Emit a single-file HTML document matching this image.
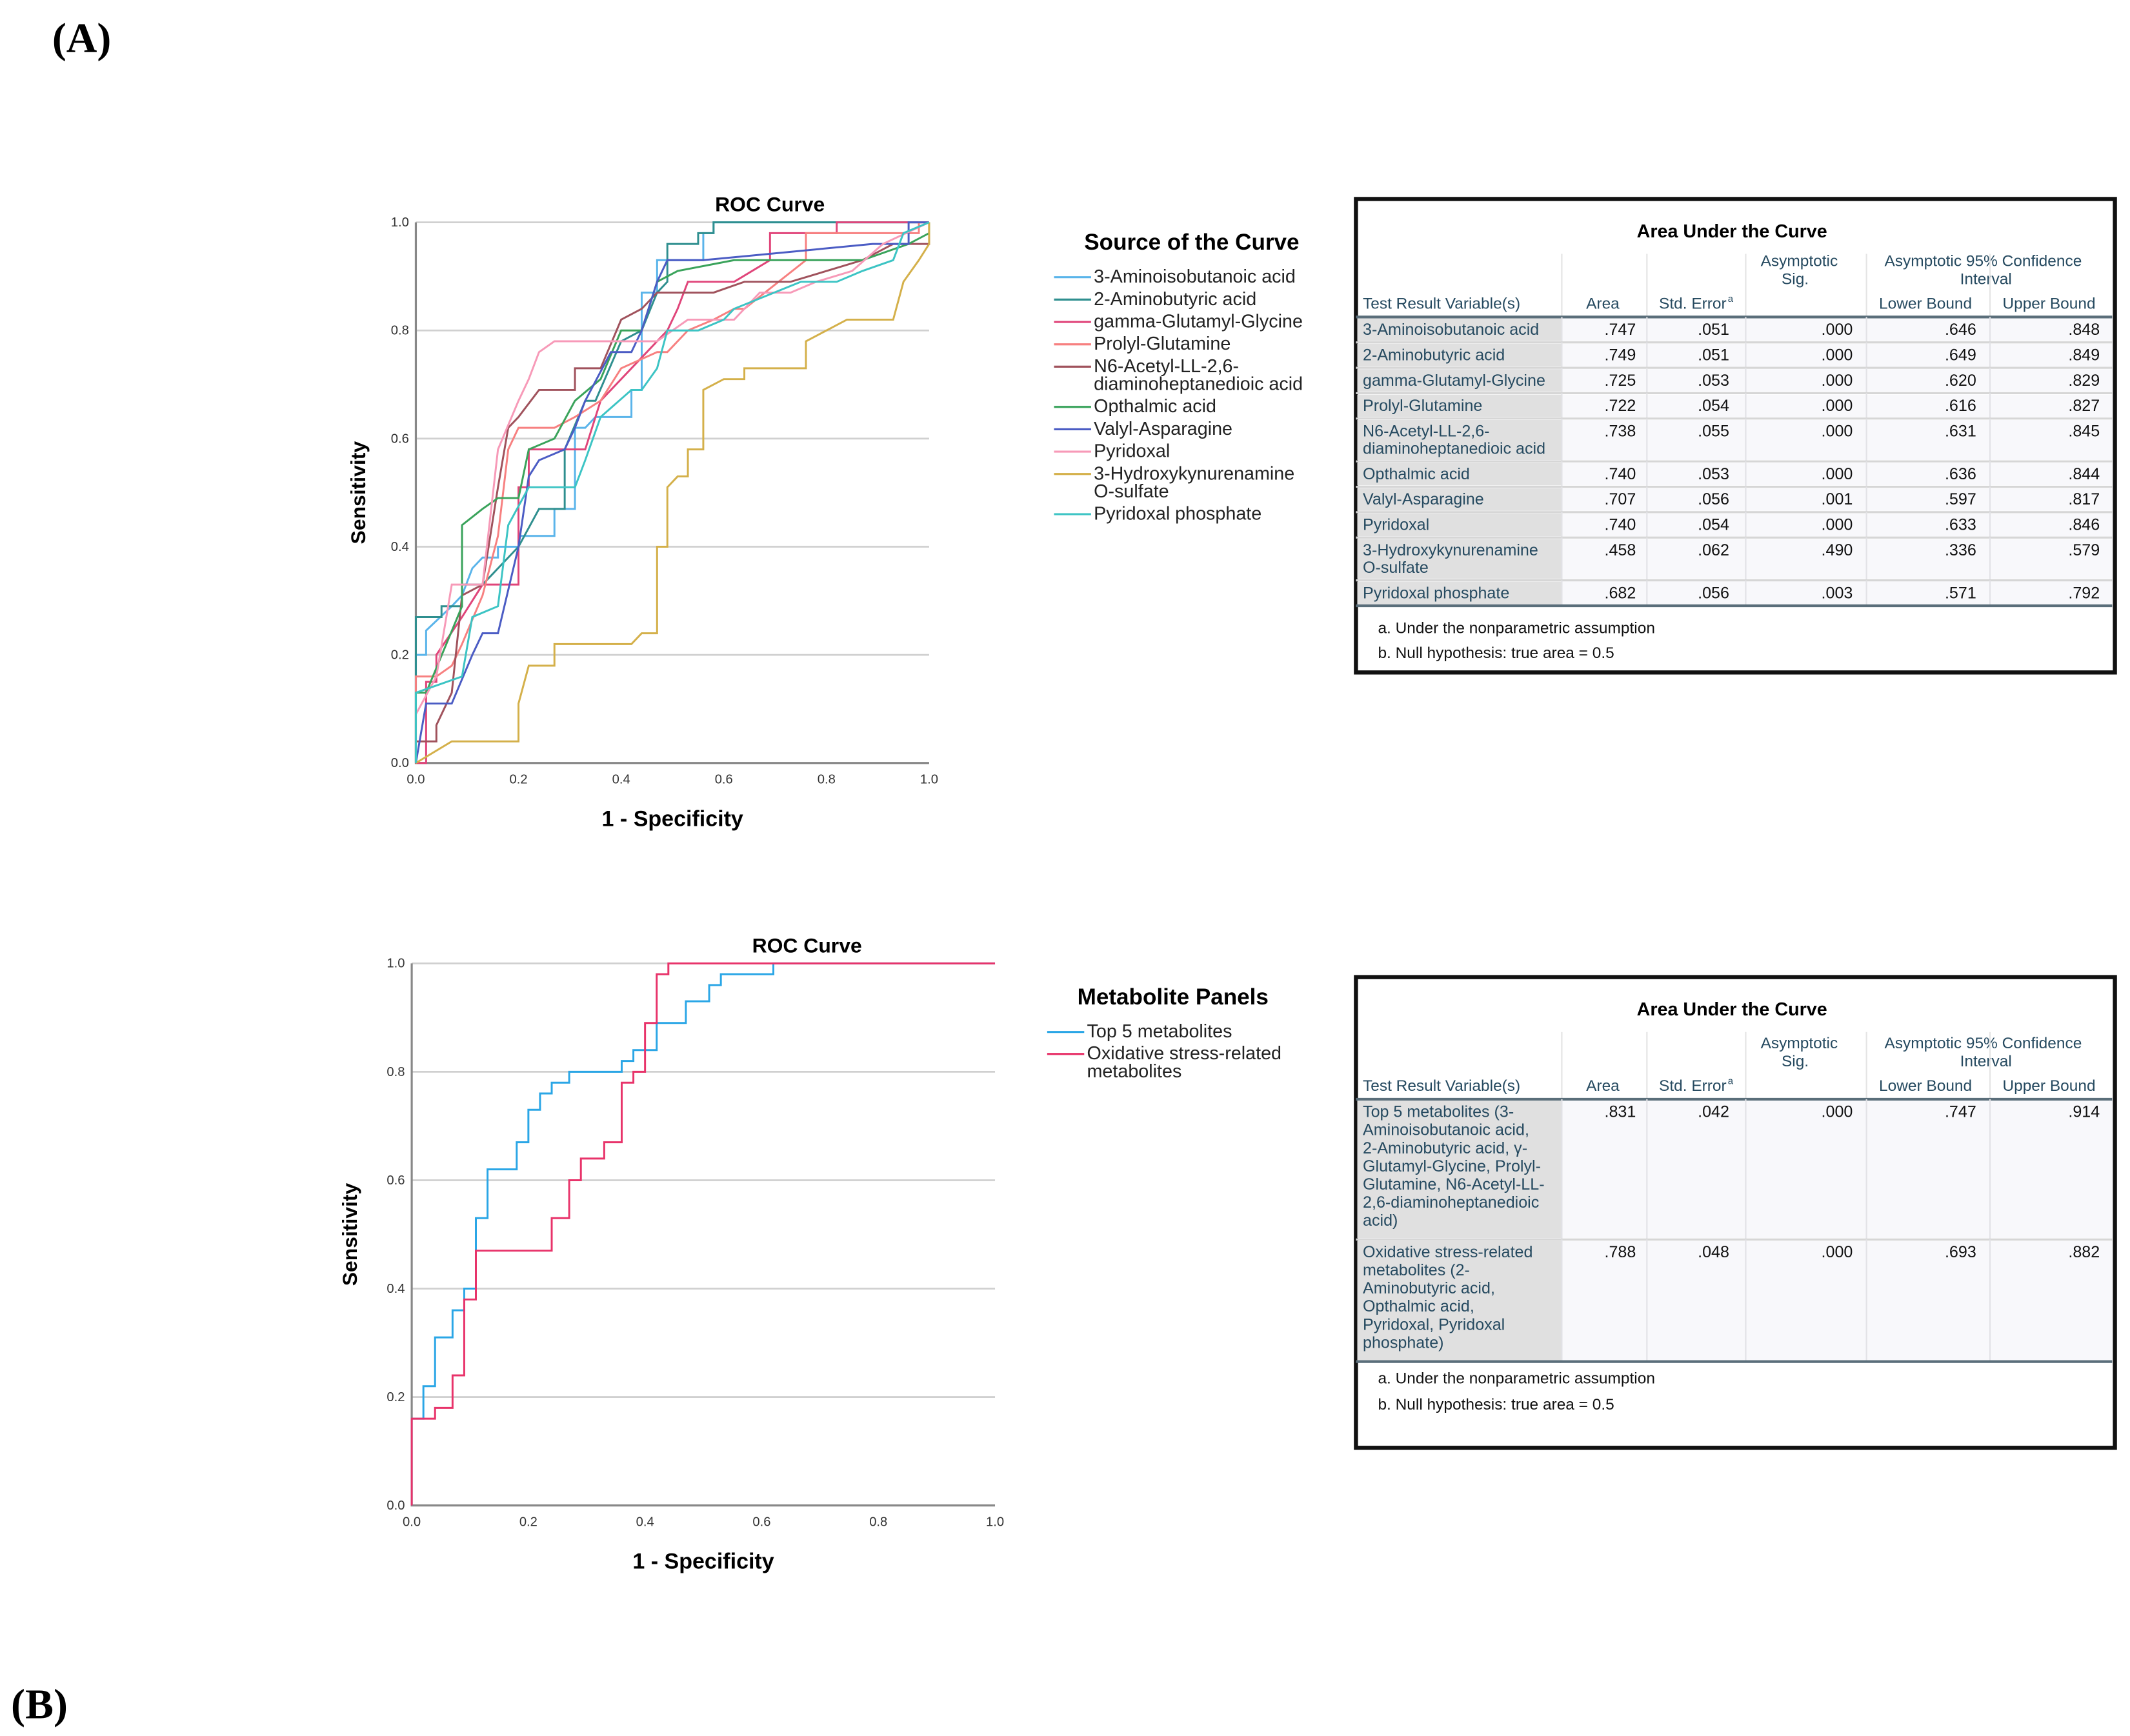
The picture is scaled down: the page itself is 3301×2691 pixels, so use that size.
<!DOCTYPE html>
<html><head><meta charset="utf-8"><style>
html,body{margin:0;padding:0;background:#fff;}
svg{display:block;}
text{font-family:"Liberation Sans",sans-serif;}
</style></head><body>
<svg id="root" width="3301" height="2691" viewBox="0 0 1552 1265" preserveAspectRatio="none" xmlns="http://www.w3.org/2000/svg">
<text x="38" y="38" font-family="Liberation Serif" font-weight="bold" font-size="31" style="font-family:'Liberation Serif',serif">(A)</text>
<text x="8" y="1252" font-family="Liberation Serif" font-weight="bold" font-size="31" style="font-family:'Liberation Serif',serif">(B)</text>
<g id="chartA"></g>
<g id="chartB"></g>
<g id="tableA"></g>
<g id="tableB"></g>
</svg>
<script>
const NS="http://www.w3.org/2000/svg";
// ---- Chart A data ----
const namesA=["3-Aminoisobutanoic acid","2-Aminobutyric acid","gamma-Glutamyl-Glycine","Prolyl-Glutamine","N6-Acetyl-LL-2,6-diaminoheptanedioic acid","Opthalmic acid","Valyl-Asparagine","Pyridoxal","3-Hydroxykynurenamine O-sulfate","Pyridoxal phosphate"];
const fprA0=[0,0,0.02,0.02,0.07,0.09,0.11,0.13,0.16,0.16,0.2,0.2,0.27,0.27,0.31,0.31,0.33,0.35,0.42,0.42,0.44,0.44,0.47,0.47,0.56,0.56,0.58,0.58,1];
const tprA0=[0,0.2,0.2,0.245,0.29,0.31,0.36,0.38,0.38,0.4,0.4,0.42,0.42,0.47,0.47,0.62,0.62,0.64,0.64,0.69,0.69,0.87,0.87,0.93,0.93,0.98,0.98,1,1];
const fprA1=[0,0,0.05,0.05,0.09,0.09,0.13,0.16,0.2,0.24,0.29,0.29,0.33,0.35,0.4,0.44,0.47,0.49,0.49,0.55,0.55,0.58,0.58,1];
const tprA1=[0,0.27,0.27,0.29,0.29,0.33,0.33,0.36,0.4,0.47,0.47,0.58,0.67,0.67,0.78,0.8,0.87,0.89,0.96,0.96,0.98,0.98,1,1];
const fprA2=[0,0.02,0.02,0.04,0.04,0.09,0.13,0.2,0.2,0.22,0.22,0.33,0.36,0.49,0.51,0.53,0.62,0.69,0.69,0.82,0.82,1];
const tprA2=[0,0,0.15,0.15,0.2,0.27,0.33,0.33,0.51,0.51,0.58,0.58,0.67,0.8,0.84,0.89,0.89,0.93,0.98,0.98,1,1];
const fprA3=[0,0,0.04,0.07,0.09,0.13,0.16,0.18,0.2,0.27,0.31,0.36,0.4,0.47,0.49,0.53,0.58,0.62,0.64,0.76,0.76,0.98,0.98,1];
const tprA3=[0,0.16,0.16,0.18,0.22,0.31,0.42,0.58,0.62,0.62,0.64,0.67,0.73,0.76,0.76,0.8,0.82,0.84,0.84,0.93,0.98,0.98,1,1];
const fprA4=[0,0,0.04,0.04,0.07,0.09,0.13,0.16,0.18,0.2,0.24,0.31,0.31,0.36,0.4,0.44,0.47,0.58,0.64,0.73,0.8,0.87,0.93,1,1];
const tprA4=[0,0.04,0.04,0.07,0.13,0.31,0.33,0.51,0.62,0.64,0.69,0.69,0.73,0.73,0.82,0.84,0.87,0.87,0.89,0.89,0.91,0.93,0.96,0.96,1];
const fprA5=[0,0,0.02,0.09,0.09,0.13,0.16,0.2,0.22,0.27,0.31,0.36,0.4,0.44,0.47,0.51,0.62,0.67,0.87,0.96,1,1];
const tprA5=[0,0.13,0.13,0.29,0.44,0.47,0.49,0.49,0.58,0.6,0.67,0.71,0.8,0.8,0.89,0.91,0.93,0.93,0.93,0.96,0.98,1];
const fprA6=[0,0.02,0.07,0.11,0.13,0.16,0.2,0.22,0.24,0.29,0.31,0.33,0.38,0.42,0.44,0.47,0.49,0.56,0.89,0.96,0.96,1];
const tprA6=[0,0.11,0.11,0.2,0.24,0.24,0.4,0.53,0.56,0.58,0.62,0.67,0.76,0.76,0.8,0.89,0.93,0.93,0.96,0.96,1,1];
const fprA7=[0,0,0.04,0.07,0.13,0.16,0.2,0.22,0.24,0.27,0.29,0.47,0.53,0.62,0.67,0.73,0.78,0.85,0.91,1];
const tprA7=[0,0.09,0.16,0.33,0.33,0.58,0.67,0.71,0.76,0.78,0.78,0.78,0.82,0.82,0.87,0.87,0.89,0.91,0.96,1];
const fprA8=[0,0.07,0.2,0.2,0.22,0.27,0.27,0.42,0.44,0.47,0.47,0.49,0.49,0.51,0.53,0.53,0.56,0.56,0.6,0.64,0.64,0.76,0.76,0.8,0.84,0.93,0.95,0.98,1,1];
const tprA8=[0,0.04,0.04,0.11,0.18,0.18,0.22,0.22,0.24,0.24,0.4,0.4,0.51,0.53,0.53,0.58,0.58,0.69,0.71,0.71,0.73,0.73,0.78,0.8,0.82,0.82,0.89,0.93,0.96,1];
const fprA9=[0,0,0.09,0.11,0.16,0.18,0.22,0.31,0.33,0.36,0.42,0.44,0.47,0.49,0.55,0.6,0.62,0.75,0.82,0.87,0.93,0.95,1];
const tprA9=[0,0.13,0.16,0.27,0.29,0.44,0.51,0.51,0.56,0.64,0.69,0.69,0.73,0.8,0.8,0.82,0.84,0.89,0.89,0.91,0.93,0.98,1];
const fprA=[fprA0,fprA1,fprA2,fprA3,fprA4,fprA5,fprA6,fprA7,fprA8,fprA9];
const tprA=[tprA0,tprA1,tprA2,tprA3,tprA4,tprA5,tprA6,tprA7,tprA8,tprA9];
const colorsA=["#5ab4ea","#2f8f8f","#e0457a","#f78080","#a0525c","#3aa35b","#4b5cc4","#f79ab8","#d4b04a","#3cc4c4"];
const legendA=[["3-Aminoisobutanoic acid"],["2-Aminobutyric acid"],["gamma-Glutamyl-Glycine"],["Prolyl-Glutamine"],["N6-Acetyl-LL-2,6-","diaminoheptanedioic acid"],["Opthalmic acid"],["Valyl-Asparagine"],["Pyridoxal"],["3-Hydroxykynurenamine","O-sulfate"],["Pyridoxal phosphate"]];
// ---- Chart B data ----
const namesB=["Top 5 metabolites","Oxidative stress-related metabolites"];
const fprB0=[0,0,0.02,0.02,0.04,0.04,0.07,0.07,0.09,0.09,0.11,0.11,0.13,0.13,0.18,0.18,0.2,0.2,0.22,0.22,0.24,0.24,0.27,0.27,0.36,0.36,0.38,0.38,0.42,0.42,0.47,0.47,0.51,0.51,0.53,0.53,0.62,0.62,1];
const tprB0=[0,0.16,0.16,0.22,0.22,0.31,0.31,0.36,0.36,0.4,0.4,0.53,0.53,0.62,0.62,0.67,0.67,0.73,0.73,0.76,0.76,0.78,0.78,0.8,0.8,0.82,0.82,0.84,0.84,0.89,0.89,0.93,0.93,0.96,0.96,0.98,0.98,1,1];
const fprB1=[0,0,0.04,0.04,0.07,0.07,0.09,0.09,0.11,0.11,0.24,0.24,0.27,0.27,0.29,0.29,0.33,0.33,0.36,0.36,0.38,0.38,0.4,0.4,0.42,0.42,0.44,0.44,1];
const tprB1=[0,0.16,0.16,0.18,0.18,0.24,0.24,0.38,0.38,0.47,0.47,0.53,0.53,0.6,0.6,0.64,0.64,0.67,0.67,0.78,0.78,0.8,0.8,0.89,0.89,0.98,0.98,1,1];
const fprB=[fprB0,fprB1];
const tprB=[tprB0,tprB1];
const colorsB=["#2aa6e6","#e8336a"];
const legendB=[["Top 5 metabolites"],["Oxidative stress-related","metabolites"]];
const ticks=[0,0.2,0.4,0.6,0.8,1.0];
const tickLabels=["0.0","0.2","0.4","0.6","0.8","1.0"];
// ---- Tables ----
const rowsA=[["3-Aminoisobutanoic acid"],["2-Aminobutyric acid"],["gamma-Glutamyl-Glycine"],["Prolyl-Glutamine"],["N6-Acetyl-LL-2,6-","diaminoheptanedioic acid"],["Opthalmic acid"],["Valyl-Asparagine"],["Pyridoxal"],["3-Hydroxykynurenamine","O-sulfate"],["Pyridoxal phosphate"]];
const areaA=[".747",".749",".725",".722",".738",".740",".707",".740",".458",".682"];
const seA=[".051",".051",".053",".054",".055",".053",".056",".054",".062",".056"];
const sigA=[".000",".000",".000",".000",".000",".000",".001",".000",".490",".003"];
const lowA=[".646",".649",".620",".616",".631",".636",".597",".633",".336",".571"];
const upA=[".848",".849",".829",".827",".845",".844",".817",".846",".579",".792"];
const rowsB=[["Top 5 metabolites (3-","Aminoisobutanoic acid,","2-Aminobutyric acid, γ-","Glutamyl-Glycine, Prolyl-","Glutamine, N6-Acetyl-LL-","2,6-diaminoheptanedioic","acid)"],["Oxidative stress-related","metabolites (2-","Aminobutyric acid,","Opthalmic acid,","Pyridoxal, Pyridoxal","phosphate)"]];
const areaB=[".831",".788"];
const seB=[".042",".048"];
const sigB=[".000",".000"];
const lowB=[".747",".693"];
const upB=[".914",".882"];

function mk(parent,tag,attrs,txt){const e=document.createElementNS(NS,tag);for(const k in attrs)e.setAttribute(k,attrs[k]);if(txt!==undefined)e.textContent=txt;parent.appendChild(e);return e;}

function drawChart(g,cfg){
  const sx=v=>cfg.x0+v*(cfg.x1-cfg.x0), sy=v=>cfg.y0-v*(cfg.y0-cfg.y1);
  for(let i=0;i<ticks.length;i++){
    if(ticks[i]>0){const gl=mk(g,"line",{x1:sx(0),x2:sx(1),y1:sy(ticks[i]),y2:sy(ticks[i]),stroke:"#d0d0d0","stroke-width":1.3});
    
    }
    const yt=mk(g,"text",{x:sx(0)-5,y:sy(ticks[i])+3,"font-size":9.5,"text-anchor":"end",fill:"#333"},tickLabels[i]);
    
    
    const xt=mk(g,"text",{x:sx(ticks[i]),y:cfg.y0+15,"font-size":9.5,"text-anchor":"middle",fill:"#333"},tickLabels[i]);
    
    
  }
  const ax=mk(g,"path",{d:`M${sx(0)},${sy(1)}V${sy(0)}H${sx(1)}`,fill:"none",stroke:"#888","stroke-width":1.5});
  
  
  for(let s=0;s<cfg.fpr.length;s++){
    const pts=cfg.fpr[s].map((v,i)=>sx(v).toFixed(2)+","+sy(cfg.tpr[s][i]).toFixed(2)).join(" ");
    const pl=mk(g,"polyline",{points:pts,fill:"none",stroke:cfg.colors[s],"stroke-width":1.4});
    
    
  }
  const t=mk(g,"text",{x:cfg.tx,y:cfg.y1-8,"font-size":15,"font-weight":"bold","text-anchor":"middle"},"ROC Curve");
  
  
  const yl=mk(g,"text",{x:0,y:0,"font-size":15,"font-weight":"bold","text-anchor":"middle",transform:`translate(${cfg.ylx},${(cfg.y0+cfg.y1)/2}) rotate(-90)`},"Sensitivity");
  
  
  const xl=mk(g,"text",{x:(cfg.x0+cfg.x1)/2,y:cfg.y0+46,"font-size":16,"font-weight":"bold","text-anchor":"middle"},"1 - Specificity");
  
  
  const lt=mk(g,"text",{x:cfg.lx+22,y:cfg.ly,"font-size":16.5,"font-weight":"bold"},cfg.legTitle);
  
  
  let y=cfg.ly+24;
  for(let s=0;s<cfg.leg.length;s++){
    const ln=mk(g,"line",{x1:cfg.lx,x2:cfg.lx+27,y1:y-4,y2:y-4,stroke:cfg.colors[s],"stroke-width":1.5});
    
    
    for(let k=0;k<cfg.leg[s].length;k++){
      const tx=mk(g,"text",{x:cfg.lx+29,y:y,"font-size":13.5,fill:"#222"},cfg.leg[s][k]);
      
      
      y+=(k<cfg.leg[s].length-1)?cfg.lsub:0;
    }
    y+=cfg.lstep;
  }
}
drawChart(document.getElementById("chartA"),{x0:303,x1:677,y0:556,y1:162,tx:561,ylx:266,fpr:fprA,tpr:tprA,colors:colorsA,names:namesA,leg:legendA,legTitle:"Source of the Curve",lx:768,ly:182,lstep:16.3,lsub:13});
drawChart(document.getElementById("chartB"),{x0:300,x1:725,y0:1097,y1:702,tx:588,ylx:260,fpr:fprB,tpr:tprB,colors:colorsB,names:namesB,leg:legendB,legTitle:"Metabolite Panels",lx:763,ly:732,lstep:16,lsub:13});

function drawTable(g,cfg){
  const L=988,R=1540,cols=[988,1138,1200,1272,1360,1450,1538];
  const box=mk(g,"rect",{x:L,y:cfg.top,width:R-L+1,height:cfg.bot-cfg.top,fill:"#fff",stroke:"#111","stroke-width":3});
  
  
  const ti=mk(g,"text",{x:1262,y:cfg.top+28,"font-size":13.5,"font-weight":"bold","text-anchor":"middle"},"Area Under the Curve");
  
  
  const hy=cfg.hdr;
  const hs=[["Test Result Variable(s)",993,"start"],["Area",1180,"end"],["Std. Error",1258,"end"],["Lower Bound",1403,"middle"],["Upper Bound",1493,"middle"]];
  hs.forEach(h=>{const e=mk(g,"text",{x:h[1],y:hy,"font-size":11.5,fill:"#264a60","text-anchor":h[2]},h[0]);
    
    });
  const sup=mk(g,"text",{x:1259,y:hy-5,"font-size":7,fill:"#264a60"},"a");
  
  
  [["Asymptotic",1311,hy-31],["Sig.",1308,hy-18],["Asymptotic 95% Confidence",1445,hy-31],["Interval",1447,hy-18]].forEach(h=>{
    const e=mk(g,"text",{x:h[1],y:h[2],"font-size":11.5,fill:"#264a60","text-anchor":"middle"},h[0]);
    
    });
  for(let c=1;c<6;c++){const vl=mk(g,"line",{x1:cols[c+0],x2:cols[c],y1:cfg.top+40,y2:cfg.rowEnd,stroke:"#e4e4e4","stroke-width":1});
    
    }
  let y=hy+6;
  const hl=mk(g,"line",{x1:L,x2:R-1,y1:y,y2:y,stroke:"#5a6e7a","stroke-width":2});
  
  
  for(let r=0;r<cfg.rows.length;r++){
    const n=cfg.rows[r].length,h=cfg.rowH+(n-1)*cfg.lineH;
    const bg=mk(g,"rect",{x:L+1,y:y+1,width:cols[6]-L,height:h-2,fill:"#f8f8fb"});
    
    
    const lb=mk(g,"rect",{x:L+1,y:y+1,width:cols[1]-L-1,height:h-2,fill:"#e0e0e0"});
    
    
    for(let c=1;c<6;c++){const vl=mk(g,"line",{x1:cols[c],x2:cols[c],y1:y,y2:y+h,stroke:"#e2e2e6","stroke-width":1});
      
      }
    cfg.rows[r].forEach((t,k)=>{const e=mk(g,"text",{x:993,y:y+cfg.base+k*cfg.lineH,"font-size":11.8,fill:"#264a60"},t);
      
      });
    const vals=[cfg.area[r],cfg.se[r],cfg.sig[r],cfg.low[r],cfg.up[r]];
    const xs=[1192,1260,1350,1440,1530];
    vals.forEach((v,k)=>{const e=mk(g,"text",{x:xs[k],y:y+cfg.base,"font-size":11.8,"text-anchor":"end",fill:"#111"},v);
      
      });
    y+=h;
    const rl=mk(g,"line",{x1:L,x2:R-1,y1:y,y2:y,stroke:r==cfg.rows.length-1?"#5a6e7a":"#d6d6d6","stroke-width":r==cfg.rows.length-1?2:1.5});
    
    
  }
  const f1=mk(g,"text",{x:1004,y:y+cfg.fn1,"font-size":11.5,fill:"#111"},"a. Under the nonparametric assumption");
  
  
  const f2=mk(g,"text",{x:1004,y:y+cfg.fn2,"font-size":11.5,fill:"#111"},"b. Null hypothesis: true area = 0.5");
  
  
}
drawTable(document.getElementById("tableA"),{top:145,bot:490,hdr:225,rows:rowsA,area:areaA,se:seA,sig:sigA,low:lowA,up:upA,rowH:18.5,lineH:12.7,base:13,rowEnd:231,fn1:20,fn2:38});
drawTable(document.getElementById("tableB"),{top:712,bot:1055,hdr:795,rows:rowsB,area:areaB,se:seB,sig:sigB,low:lowB,up:upB,rowH:23,lineH:13.2,base:13,rowEnd:801,fn1:16,fn2:35});
</script>
</body></html>
